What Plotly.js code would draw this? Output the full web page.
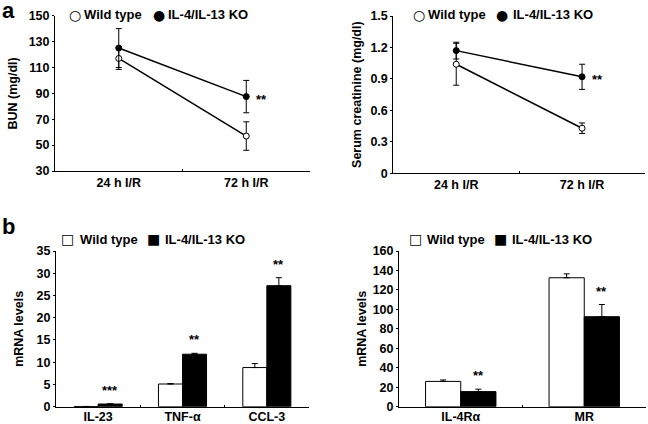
<!DOCTYPE html>
<html>
<head>
<meta charset="utf-8">
<script src="https://cdn.plot.ly/plotly-3.0.1.min.js"></script>
<style>html,body{margin:0;padding:0;background:#fff}</style>
</head>
<body>
<div id="chart" style="width:648px;height:424px"></div>
<script>
// ---- data ----
const timeCats = ['24 h I/R', '72 h I/R'];
const bunWT = [117, 57];
const bunWTErr = [8.5, 11];
const bunKO = [125, 87.5];
const bunKOErr = [15, 12.5];
const bunSig = ['', '**'];

const creWT = [1.04, 0.43];
const creWTErr = [0.2, 0.05];
const creKO = [1.17, 0.92];
const creKOErr = [0.08, 0.12];
const creSig = ['', '**'];

const genesA = ['IL-23', 'TNF-α', 'CCL-3'];
const mrnaWtA = [0.05, 5.1, 8.8];
const mrnaWtAErr = [0, 0.1, 0.9];
const mrnaKoA = [0.6, 11.8, 27.2];
const mrnaKoAErr = [0.05, 0.2, 1.8];
const sigA = ['***', '**', '**'];

const genesB = ['IL-4Rα', 'MR'];
const mrnaWtB = [26, 132.5];
const mrnaWtBErr = [1.5, 4];
const mrnaKoB = [15.5, 92.5];
const mrnaKoBErr = [2.5, 12.5];
const sigB = ['**', '**'];

const seriesNames = ['Wild type', 'IL-4/IL-13 KO'];

// ---- styling ----
const FONT = 'Liberation Sans, Arial, sans-serif';
const tickFont = {family: FONT, size: 12.5, color: '#000', weight: 700};
const titleFont = {family: FONT, size: 12.5, color: '#000', weight: 700};

function lineTrace(x, y, err, filled, xa, ya, name) {
  return {
    type: 'scatter', mode: 'lines+markers', x: x, y: y, name: name,
    xaxis: xa, yaxis: ya, showlegend: false, cliponaxis: false,
    line: {color: '#000', width: 1.5},
    marker: {size: 6, color: filled ? '#000' : '#fff', line: {color: '#000', width: 1}},
    error_y: {type: 'data', array: err, visible: true, color: '#000', thickness: 1, width: 3}
  };
}
function barTrace(x, y, err, filled, xa, ya, name) {
  return {
    type: 'bar', x: x, y: y, name: name, xaxis: xa, yaxis: ya, showlegend: false,
    marker: {color: filled ? '#000' : '#fff', line: {color: '#000', width: 1}},
    error_y: {type: 'data', symmetric: false, array: err, arrayminus: err.map(() => 0),
              visible: true, color: '#000', thickness: 1, width: 3}
  };
}

const data = [
  lineTrace(timeCats, bunWT, bunWTErr, false, 'x', 'y', seriesNames[0]),
  lineTrace(timeCats, bunKO, bunKOErr, true, 'x', 'y', seriesNames[1]),
  lineTrace(timeCats, creWT, creWTErr, false, 'x2', 'y2', seriesNames[0]),
  lineTrace(timeCats, creKO, creKOErr, true, 'x2', 'y2', seriesNames[1]),
  barTrace(genesA, mrnaWtA, mrnaWtAErr, false, 'x3', 'y3', seriesNames[0]),
  barTrace(genesA, mrnaKoA, mrnaKoAErr, true, 'x3', 'y3', seriesNames[1]),
  barTrace(genesB, mrnaWtB, mrnaWtBErr, false, 'x4', 'y4', seriesNames[0]),
  barTrace(genesB, mrnaKoB, mrnaKoBErr, true, 'x4', 'y4', seriesNames[1])
];

function xAxis(domain, anchor, n, standoff) {
  return {
    domain: domain, anchor: anchor, type: 'category', range: [-0.5, n - 0.5],
    showline: true, linecolor: '#000', linewidth: 1, showgrid: false, zeroline: false,
    ticks: 'inside', tickson: 'boundaries', ticklen: 2, tickcolor: '#000',
    tickfont: tickFont, fixedrange: true, ticklabelstandoff: standoff
  };
}
function yAxis(domain, anchor, range, dtick, title, standoff) {
  return {
    domain: domain, anchor: anchor, range: range, tick0: range[0], dtick: dtick,
    showline: true, linecolor: '#000', linewidth: 1, showgrid: false, zeroline: false,
    ticks: 'outside', ticklen: 2, tickcolor: '#000', tickfont: tickFont,
    title: {text: title, font: titleFont, standoff: standoff}, automargin: false
  };
}

const annotations = [];
function sigAnn(cats, vals, errs, sigs, xa, ya, xshift, yshift, anchor) {
  cats.forEach((c, i) => {
    if (!sigs[i]) return;
    annotations.push({
      xref: xa, yref: ya, x: c, y: vals[i] + errs[i], text: sigs[i],
      showarrow: false, xshift: xshift, yshift: yshift,
      xanchor: 'center', yanchor: anchor,
      font: {family: FONT, size: 13, color: '#000', weight: 700}
    });
  });
}
sigAnn(timeCats, bunKO, bunKO.map(() => 0), bunSig, 'x', 'y', 15, -3, 'middle');
sigAnn(timeCats, creKO, creKO.map(() => 0), creSig, 'x2', 'y2', 15, -3, 'middle');
sigAnn(genesA, mrnaKoA, mrnaKoAErr, sigA, 'x3', 'y3', 12, 4, 'bottom');
sigAnn(genesB, mrnaKoB, mrnaKoBErr, sigB, 'x4', 'y4', 17.5, 4, 'bottom');

// legends drawn as text (symbol + label)
function legendItem(symbol, symSize, cx, label, lx, cy) {
  annotations.push({xref: 'paper', yref: 'paper', x: cx / 648, y: 1 - cy / 424, text: symbol,
    showarrow: false, xanchor: 'center', yanchor: 'middle',
    font: {family: 'DejaVu Sans, sans-serif', size: symSize, color: '#000'}});
  annotations.push({xref: 'paper', yref: 'paper', x: lx / 648, y: 1 - cy / 424, text: label,
    showarrow: false, xanchor: 'left', yanchor: 'middle',
    font: {family: FONT, size: 13, color: '#000', weight: 700}});
}
legendItem('○', 14, 75, seriesNames[0], 82, 15);
legendItem('●', 14, 158.5, seriesNames[1], 166, 15);
legendItem('○', 14, 419, seriesNames[0], 426, 15);
legendItem('●', 14, 501.7, seriesNames[1], 511, 15);
legendItem('□', 14, 67.7, seriesNames[0], 77.5, 239.3);
legendItem('■', 14, 153.3, seriesNames[1], 162.5, 239.3);
legendItem('□', 14, 415, seriesNames[0], 425, 239.3);
legendItem('■', 14, 500.7, seriesNames[1], 509.5, 239.3);

// panel letters
annotations.push({xref: 'paper', yref: 'paper', x: 0, y: 1 + 4 / 424, text: 'a', showarrow: false,
  xanchor: 'left', yanchor: 'top', font: {family: FONT, size: 22, color: '#000', weight: 700}});
annotations.push({xref: 'paper', yref: 'paper', x: 0, y: 1 - 212 / 424, text: 'b', showarrow: false,
  xanchor: 'left', yanchor: 'top', font: {family: FONT, size: 22, color: '#000', weight: 700}});

const layout = {
  width: 648, height: 424, autosize: false,
  margin: {l: 0, r: 0, t: 0, b: 0, pad: 0},
  paper_bgcolor: '#fff', plot_bgcolor: '#fff',
  showlegend: false,
  barmode: 'group', bargap: 0.43, bargroupgap: 0,
  font: {family: FONT, color: '#000'},
  xaxis: xAxis([55 / 648, 310 / 648], 'y', 2, 0),
  yaxis: yAxis([1 - 171 / 424, 1 - 15.7 / 424], 'x', [30, 150], 20, 'BUN (mg/dl)', 8),
  xaxis2: xAxis([393.3 / 648, 645 / 648], 'y2', 2, 0),
  yaxis2: yAxis([1 - 173.3 / 424, 1 - 16 / 424], 'x2', [0, 1.5], 0.3, 'Serum creatinine (mg/dl)', 6),
  xaxis3: xAxis([56 / 648, 309 / 648], 'y3', 3, -2),
  yaxis3: yAxis([1 - 406.7 / 424, 1 - 251 / 424], 'x3', [0, 35], 5, 'mRNA levels', 10),
  xaxis4: xAxis([399 / 648, 646 / 648], 'y4', 2, -2),
  yaxis4: yAxis([1 - 406.7 / 424, 1 - 251 / 424], 'x4', [0, 160], 20, 'mRNA levels', 3),
  annotations: annotations
};

Plotly.newPlot('chart', data, layout, {staticPlot: true, displayModeBar: false});
</script>
</body>
</html>
